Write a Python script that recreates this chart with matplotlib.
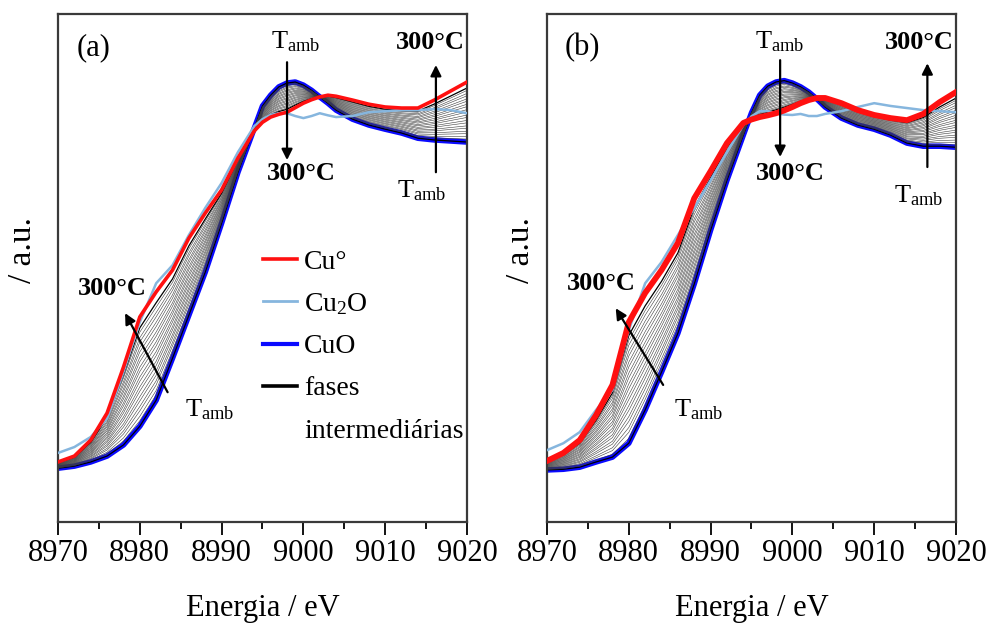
import numpy as np
import matplotlib.pyplot as plt

plt.rcParams['font.family'] = ['Liberation Serif', 'DejaVu Serif']
plt.rcParams['mathtext.fontset'] = 'custom'
plt.rcParams['mathtext.rm'] = 'Liberation Serif'
plt.rcParams['mathtext.it'] = 'Liberation Serif:italic'
plt.rcParams['mathtext.bf'] = 'Liberation Serif:bold'

# energy grid (eV)
energia = [8970, 8972, 8974, 8976, 8978, 8980, 8982, 8984, 8986, 8988, 8990, 8992, 8994,
           8995, 8996, 8997, 8998, 8999, 9000, 9001, 9002, 9003, 9004,
           9006, 9008, 9010, 9012, 9014, 9016, 9018, 9020]

# normalised XANES, sample (a)
cuo_a = [-0.009, -0.003, 0.009, 0.026, 0.058, 0.112, 0.187, 0.308, 0.432, 0.556, 0.697, 0.844, 0.971,
         1.035, 1.066, 1.090, 1.101, 1.104, 1.095, 1.080, 1.061, 1.043, 1.023,
         0.997, 0.980, 0.968, 0.957, 0.942, 0.937, 0.934, 0.931]
cu_a = [0.009, 0.026, 0.072, 0.150, 0.282, 0.427, 0.499, 0.562, 0.654, 0.726, 0.793, 0.885, 0.963,
        0.988, 1.003, 1.011, 1.017, 1.030, 1.043, 1.053, 1.061, 1.066, 1.063,
        1.052, 1.040, 1.032, 1.029, 1.029, 1.052, 1.078, 1.104]
cu2o_a = [0.035, 0.052, 0.081, 0.135, 0.268, 0.412, 0.524, 0.576, 0.663, 0.741, 0.813, 0.902, 0.977,
          0.997, 1.009, 1.014, 1.014, 1.006, 1.000, 1.006, 1.014, 1.008, 1.003,
          1.006, 1.017, 1.020, 1.023, 1.023, 1.026, 1.023, 1.014]

# normalised XANES, sample (b)
cuo_b = [-0.014, -0.012, -0.006, 0.009, 0.023, 0.063, 0.159, 0.268, 0.380, 0.522, 0.677, 0.821, 0.951,
         1.015, 1.066, 1.092, 1.104, 1.108, 1.101, 1.090, 1.075, 1.055, 1.032,
         1.000, 0.980, 0.968, 0.951, 0.928, 0.919, 0.919, 0.916]
cu_b = [0.012, 0.035, 0.072, 0.144, 0.231, 0.412, 0.496, 0.562, 0.640, 0.769, 0.847, 0.928, 0.986,
        0.996, 1.003, 1.008, 1.014, 1.022, 1.032, 1.043, 1.052, 1.058, 1.058,
        1.043, 1.023, 1.009, 1.000, 0.994, 1.012, 1.046, 1.075]
cu2o_b = [0.043, 0.063, 0.095, 0.159, 0.216, 0.389, 0.524, 0.585, 0.663, 0.741, 0.821, 0.902, 0.980,
          1.005, 1.020, 1.020, 1.014, 1.010, 1.009, 1.012, 1.006, 1.006, 1.012,
          1.020, 1.032, 1.043, 1.035, 1.029, 1.023, 1.020, 1.017]

# Cu0 fraction at each temperature step, T_amb -> 300 C
x_cu_a = [0.0, 0.05, 0.09, 0.14, 0.18, 0.23, 0.27, 0.32, 0.36, 0.41, 0.45,
          0.50, 0.54, 0.59, 0.63, 0.68, 0.72, 0.77, 0.81, 0.86, 0.90]
x_cu_b = [0.0, 0.04, 0.09, 0.13, 0.18, 0.22, 0.27, 0.31, 0.36, 0.40, 0.45,
          0.49, 0.54, 0.58, 0.63, 0.67, 0.72, 0.76, 0.81, 0.85, 0.89]

c_red = '#ff1010'
c_lb = '#86b6de'
c_blue = '#0a0aff'
TAMB = r'T$_{\mathrm{amb}}$'


def painel(ax, cuo, cu, cu2o, x_cu, red_lw, letra, yl_x, arrows, texts):
    E = np.array(energia)
    cuo = np.array(cuo)
    cu = np.array(cu)
    ax.plot(E, cuo, color=c_blue, lw=4.0, zorder=1)
    # intermediate spectra: mixtures of the CuO and Cu references
    n = len(x_cu)
    for i, f in enumerate(x_cu):
        ends = i in (0, n - 1)
        ax.plot(E, (1 - f) * cuo + f * cu, color='black' if ends else '#3c3c3c',
                lw=0.9 if ends else 0.4, zorder=2)
    ax.plot(E, cu2o, color=c_lb, lw=1.8, zorder=3)
    ax.plot(E, cu, color=c_red, lw=red_lw, zorder=4)

    ax.set_xlim(8970, 9020)
    ax.set_ylim(-0.164, 1.30)
    ax.set_xticks(np.arange(8970, 9021, 10))
    ax.set_xticks(np.arange(8975, 9020, 10), minor=True)
    ax.set_yticks([])
    ax.tick_params(axis='x', which='major', direction='out', length=9, width=1.3, labelsize=22, pad=3)
    ax.tick_params(axis='x', which='minor', direction='out', length=5, width=1.3)
    for s in ax.spines.values():
        s.set_color('#3a3a3a')
        s.set_linewidth(1.6)
    ax.set_xlabel('Energia / eV', fontsize=22, labelpad=19)
    ax.set_ylabel('/ a.u.', fontsize=24)
    ax.yaxis.set_label_coords(yl_x, 0.535)
    ax.text(0.086, 0.933, letra, transform=ax.transAxes, fontsize=22, ha='center', va='center')

    for (x0, y0, x1, y1) in arrows:
        ax.annotate('', xy=(x1, y1), xytext=(x0, y0),
                    arrowprops=dict(arrowstyle='-|>', color='black', lw=1.6,
                                    mutation_scale=16, shrinkA=0, shrinkB=0), zorder=6)
    for (x, y, s, bold) in texts:
        ax.text(x, y, s, fontsize=19, fontweight='bold' if bold else 'normal',
                ha='center', va='center', zorder=7)


fig = plt.figure(figsize=(9.9, 6.23), dpi=100)
ax_a = fig.add_axes([58 / 990, 101 / 623, 409 / 990, 508 / 623])
ax_b = fig.add_axes([547 / 990, 101 / 623, 409 / 990, 508 / 623])

painel(ax_a, cuo_a, cu_a, cu2o_a, x_cu_a, 2.6, '(a)', -0.048,
       [(8998.0, 1.161, 8998.0, 0.879), (9016.2, 0.844, 9016.2, 1.153),
        (8983.4, 0.210, 8978.2, 0.438)],
       [(8999.0, 1.219, TAMB, False), (8999.8, 0.839, '300°C', True),
        (9015.5, 1.219, '300°C', True), (9014.5, 0.790, TAMB, False),
        (8976.7, 0.510, '300°C', True), (8988.5, 0.160, TAMB, False)])

painel(ax_b, cuo_b, cu_b, cu2o_b, x_cu_b, 4.2, '(b)', -0.026,
       [(8998.5, 1.167, 8998.5, 0.888), (9016.5, 0.859, 9016.5, 1.158),
        (8984.2, 0.231, 8978.4, 0.452)],
       [(8998.4, 1.219, TAMB, False), (8999.8, 0.841, '300°C', True),
        (9015.5, 1.219, '300°C', True), (9015.4, 0.776, TAMB, False),
        (8976.7, 0.524, '300°C', True), (8988.6, 0.160, TAMB, False)])

# legend for panel (a); the second line of the last label has no handle
h = [plt.Line2D([], [], color=c_red, lw=2.6),
     plt.Line2D([], [], color=c_lb, lw=2.0),
     plt.Line2D([], [], color=c_blue, lw=3.0),
     plt.Line2D([], [], color='black', lw=2.6),
     plt.Line2D([], [], color='none', lw=0)]
ax_a.legend(h, ['Cu°', 'Cu$_2$O', 'CuO', 'fases', 'intermediárias'], loc='upper left',
            bbox_to_anchor=(0.5, 0.537), frameon=False, fontsize=20, handlelength=1.25,
            handletextpad=0.25, labelspacing=0.6, borderpad=0, borderaxespad=0)

fig.savefig('out.png', dpi=100)
